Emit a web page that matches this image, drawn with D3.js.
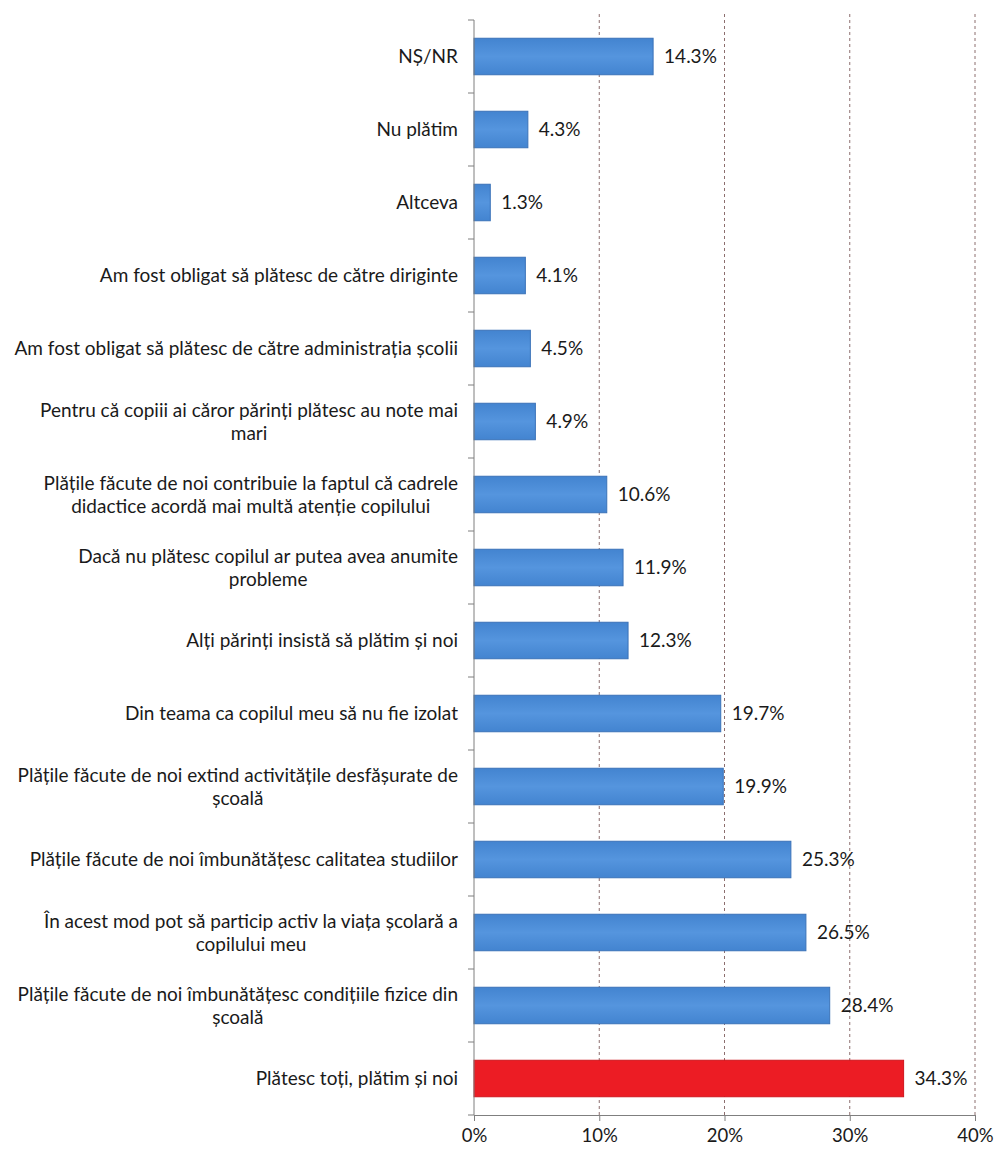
<!DOCTYPE html>
<html>
<head>
<meta charset="utf-8">
<script src="https://cdn.jsdelivr.net/npm/d3@7"></script>
<style>
  body { margin: 0; background: #fff; }
  text { font-family: Lato, "Open Sans", sans-serif; fill: #1a1a1a; }
</style>
</head>
<body>
<div id="chart"></div>
<script>
// categorii (rânduri de text pentru etichetele pe mai multe linii)
const categories = [
  ["NȘ/NR"],
  ["Nu plătim"],
  ["Altceva"],
  ["Am fost obligat să plătesc de către diriginte"],
  ["Am fost obligat să plătesc de către administrația școlii"],
  ["Pentru că copiii ai căror părinți plătesc au note mai", "mari"],
  ["Plățile făcute de noi contribuie la faptul că cadrele", "didactice acordă mai multă atenție copilului"],
  ["Dacă nu plătesc copilul ar putea avea anumite", "probleme"],
  ["Alți părinți insistă să plătim și noi"],
  ["Din teama ca copilul meu să nu fie izolat"],
  ["Plățile făcute de noi extind activitățile desfășurate de", "școală"],
  ["Plățile făcute de noi  îmbunătățesc calitatea studiilor"],
  ["În acest mod pot să particip activ la viața școlară a", "copilului meu"],
  ["Plățile făcute de noi îmbunătățesc condițiile fizice din", "școală"],
  ["Plătesc toți, plătim și noi"]
]
const values = [14.3, 4.3, 1.3, 4.1, 4.5, 4.9, 10.6, 11.9, 12.3, 19.7, 19.9, 25.3, 26.5, 28.4, 34.3]
const highlight = [false, false, false, false, false, false, false, false, false, false, false, false, false, false, true]
const xTicks = [0, 10, 20, 30, 40]

const margin = { top: 20, right: 21, bottom: 35, left: 474 }
const width = 996 - margin.left - margin.right
const height = 1150 - margin.top - margin.bottom

const svg = d3.select("#chart").append("svg")
  .attr("width", 996)
  .attr("height", 1150)
  .append("g")
  .attr("transform", "translate(" + margin.left + "," + margin.top + ")");

const idx = d3.range(categories.length)

const x = d3.scaleLinear().domain([0, 40]).range([0, width])
const y = d3.scaleBand().domain(idx).range([0, height]).paddingInner(0.5).paddingOuter(0.25)

// gradient pentru bare
const defs = svg.append("defs")
const gb = defs.append("linearGradient").attr("id", "gblue").attr("x1", 0).attr("x2", 0).attr("y1", 0).attr("y2", 1)
gb.append("stop").attr("offset", "0%").attr("stop-color", "#4384d0")
gb.append("stop").attr("offset", "50%").attr("stop-color", "#5595de")
gb.append("stop").attr("offset", "100%").attr("stop-color", "#4384d0")

// linii de grilă
svg.append("g")
  .selectAll("line")
  .data(xTicks.slice(1))
  .enter().append("line")
  .attr("x1", d => x(d)).attr("x2", d => x(d))
  .attr("y1", -6).attr("y2", height)
  .attr("stroke", "#8c6e6e")
  .attr("stroke-width", 1)
  .attr("stroke-dasharray", "3,3");

// bare
svg.selectAll(".bar")
  .data(idx)
  .enter().append("rect")
  .attr("class", "bar")
  .attr("x", 0)
  .attr("y", i => y(i))
  .attr("width", i => x(values[i]))
  .attr("height", y.bandwidth())
  .attr("fill", i => highlight[i] ? "#ec1c24" : "url(#gblue)")
  .attr("stroke", i => highlight[i] ? "#d0151c" : "#3a72b8")
  .attr("stroke-width", 1);

// axa x
const xAxis = d3.axisBottom(x)
  .tickValues(xTicks)
  .tickSize(6)
  .tickPadding(8)
  .tickFormat(d => d + "%");

svg.append("g")
  .attr("class", "x axis")
  .attr("transform", "translate(0," + height + ")")
  .call(xAxis)
  .call(g => g.selectAll("path, line").attr("stroke", "#7f7f7f"))
  .call(g => g.selectAll("text").style("font-size", "18.5px").attr("fill", "#1a1a1a"));

// axa y (linie + gradații între categorii)
const yg = svg.append("g").attr("class", "y axis")
yg.append("line")
  .attr("x1", 0).attr("x2", 0).attr("y1", 0).attr("y2", height)
  .attr("stroke", "#7f7f7f");
yg.selectAll(".tk")
  .data(d3.range(categories.length + 1))
  .enter().append("line")
  .attr("x1", -6).attr("x2", 0)
  .attr("y1", i => i * y.step()).attr("y2", i => i * y.step())
  .attr("stroke", "#7f7f7f");

// etichete categorii
const lineH = 23
idx.forEach(i => {
  const lines = categories[i]
  const g = svg.append("g")
  const t = g.append("text")
    .style("font-size", "19px")
    .attr("text-anchor", "middle");
  lines.forEach((l, k) => {
    t.append("tspan")
      .attr("x", 0)
      .attr("y", y(i) + y.bandwidth() / 2 + (k - (lines.length - 1) / 2) * lineH)
      .attr("dy", "0.35em")
      .text(l);
  });
  // blocul aliniat la dreapta, rândurile centrate în bloc
  let w = 0
  t.selectAll("tspan").each(function () { w = Math.max(w, this.getComputedTextLength()) })
  t.selectAll("tspan").attr("x", -16 - w / 2)
});

// etichete valori
svg.selectAll(".label")
  .data(idx)
  .enter().append("text")
  .attr("class", "label")
  .attr("x", i => x(values[i]) + 11)
  .attr("y", i => y(i) + y.bandwidth() / 2)
  .attr("dy", ".35em")
  .style("font-size", "19px")
  .text(i => values[i].toFixed(1) + "%");
</script>
</body>
</html>
